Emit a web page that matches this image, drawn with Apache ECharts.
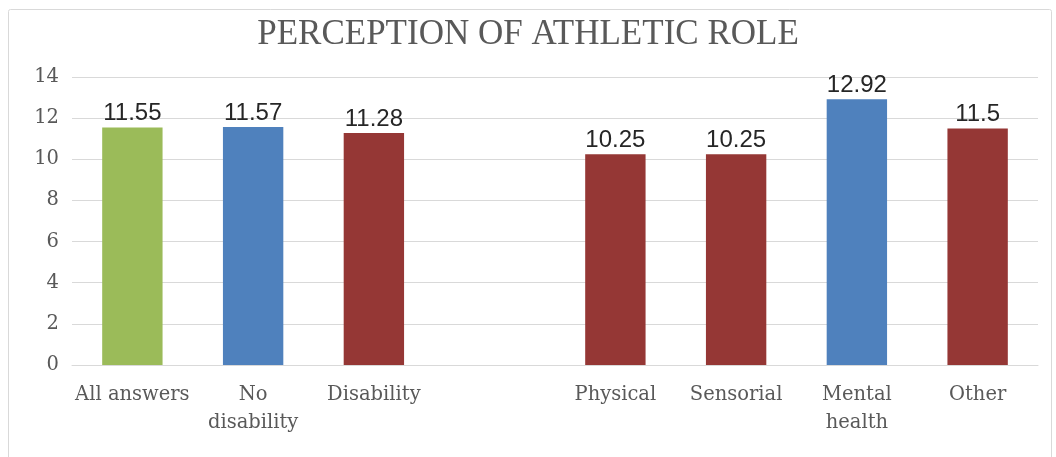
<!DOCTYPE html>
<html><head><meta charset="utf-8">
<script src="https://cdn.jsdelivr.net/npm/echarts@6/dist/echarts.min.js"></script>
<style>html,body{margin:0;padding:0;background:#fff}#c{width:1056px;height:457px}</style>
</head><body><div id="c"></div>
<script>
const categories = ['All answers', 'No\ndisability', 'Disability', '', 'Physical', 'Sensorial', 'Mental\nhealth', 'Other'];
const values = [11.55, 11.57, 11.28, null, 10.25, 10.25, 12.92, 11.5];
const barColors = ['#9BBB59', '#4F81BD', '#953735', '#953735', '#953735', '#953735', '#4F81BD', '#953735'];
const yTicks = [0, 2, 4, 6, 8, 10, 12, 14];
const serif = "'DejaVu Serif', 'Liberation Serif', serif";
const titleFont = "'Liberation Serif', 'DejaVu Serif', serif";
const sans = "'Liberation Sans', Arial, sans-serif";

const chart = echarts.init(document.getElementById('c'));
chart.setOption({
  animation: false,
  graphic: [{
    type: 'rect', left: 6, top: 7, shape: {width: 1043, height: 460, r: 2},
    style: {fill: 'none', stroke: '#D9D9D9', lineWidth: 1}, silent: true, z: -1
  }],
  title: {
    text: 'PERCEPTION OF ATHLETIC ROLE', left: 'center', top: 12, padding: [5, 0, 5, 12],
    textStyle: {fontFamily: titleFont, fontSize: 35, fontWeight: 'normal', color: '#595959'}
  },
  grid: {left: 72, right: 18, top: 77, bottom: 92},
  xAxis: {
    type: 'category', data: categories,
    axisLine: {lineStyle: {color: '#D9D9D9'}}, axisTick: {show: false},
    axisLabel: {fontFamily: serif, fontSize: 19.5, color: '#595959', margin: 16, lineHeight: 28, interval: 0}
  },
  yAxis: {
    type: 'value', min: yTicks[0], max: yTicks[yTicks.length - 1], interval: 2,
    axisLine: {show: false}, axisTick: {show: false},
    splitLine: {lineStyle: {color: '#D9D9D9'}},
    axisLabel: {fontFamily: serif, fontSize: 19.5, color: '#595959', margin: 13}
  },
  series: [{
    type: 'bar', barWidth: '50%',
    data: values.map((v, i) => ({value: v, itemStyle: {color: barColors[i]}})),
    label: {show: true, position: 'top', distance: 2, fontFamily: sans, fontSize: 24, color: '#262626'}
  }]
});
</script></body></html>
